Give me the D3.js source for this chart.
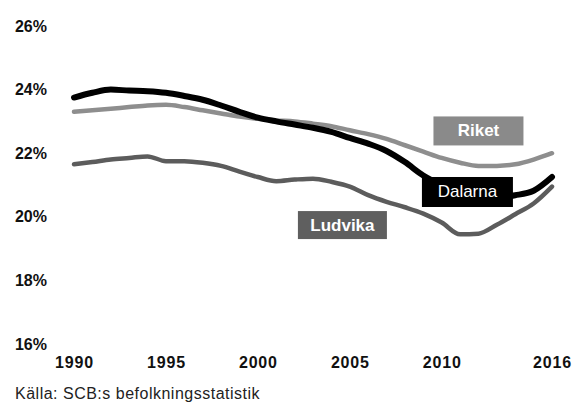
<!DOCTYPE html>
<html>
<head>
<meta charset="utf-8">
<script src="https://cdn.jsdelivr.net/npm/d3@7"></script>
<style>
  html, body { margin: 0; padding: 0; background: #fff; }
  svg { display: block; }
  text { font-family: "Liberation Sans", Arial, sans-serif; }
</style>
</head>
<body>
<svg id="chart" width="576" height="403"></svg>
<script>
const years = d3.range(1990, 2017);
const dalarna = [23.75, 23.9, 24.0, 23.97, 23.95, 23.9, 23.8, 23.68, 23.5, 23.3, 23.12, 23.0, 22.9, 22.8, 22.67, 22.48, 22.3, 22.07, 21.72, 21.3, 21.0, 20.78, 20.65, 20.62, 20.68, 20.82, 21.25];
const riket = [23.3, 23.35, 23.4, 23.45, 23.5, 23.52, 23.45, 23.35, 23.25, 23.15, 23.08, 23.03, 23.0, 22.93, 22.85, 22.72, 22.6, 22.45, 22.25, 22.05, 21.85, 21.7, 21.6, 21.6, 21.65, 21.8, 22.0];
const ludvika = [21.65, 21.72, 21.8, 21.85, 21.9, 21.75, 21.75, 21.7, 21.6, 21.42, 21.25, 21.12, 21.17, 21.2, 21.1, 20.95, 20.68, 20.47, 20.3, 20.1, 19.82, 19.45, 19.47, 19.75, 20.08, 20.42, 20.95];
const yTicks = [16, 18, 20, 22, 24, 26];
const xTicks = [1990, 1995, 2000, 2005, 2010, 2016];
const seriesNames = ["Riket", "Ludvika", "Dalarna"];
const labelAnchors = { Riket: [2012, 22.7], Dalarna: [2011.4, 20.78], Ludvika: [2004.6, 19.74] };
const source = "Källa: SCB:s befolkningsstatistik";

const series = [
  { name: "Riket", values: riket, color: "#8e8e8e", width: 4.5, box: "#8a8a8a", bw: 90, bh: 29 },
  { name: "Ludvika", values: ludvika, color: "#5c5c5c", width: 4.5, box: "#5f5f5f", bw: 89, bh: 28 },
  { name: "Dalarna", values: dalarna, color: "#000", width: 6, box: "#000", bw: 91, bh: 30 }
];

const svg = d3.select("#chart");
const x = d3.scaleLinear().domain([1990, 2016]).range([74, 552]);
const y = d3.scaleLinear().domain([16, 26]).range([344, 26]);

// Y axis labels
const yAxis = d3.axisLeft(y).tickValues(yTicks).tickSize(0).tickPadding(0)
  .tickFormat(d => d + "%");
const gy = svg.append("g").attr("transform", "translate(47,0)").call(yAxis);
gy.select(".domain").remove();
gy.selectAll("text").attr("font-size", 16).attr("font-weight", "bold")
  .attr("fill", "#111").attr("font-family", "'Liberation Sans', Arial, sans-serif");

// X axis labels
const xAxis = d3.axisBottom(x).tickValues(xTicks).tickSize(0).tickPadding(0)
  .tickFormat(d3.format("d"));
const gx = svg.append("g").attr("transform", "translate(0,357)").call(xAxis);
gx.select(".domain").remove();
gx.selectAll("text").attr("font-size", 16).attr("font-weight", "bold")
  .attr("fill", "#111").attr("letter-spacing", 0.8)
  .attr("font-family", "'Liberation Sans', Arial, sans-serif");

// Lines
const line = d3.line().x((d, i) => x(years[i])).y(d => y(d)).curve(d3.curveMonotoneX);
series.forEach(s => {
  svg.append("path").datum(s.values)
    .attr("d", line)
    .attr("fill", "none")
    .attr("stroke", s.color)
    .attr("stroke-width", s.width)
    .attr("stroke-linecap", "round")
    .attr("stroke-linejoin", "round");
});

// Label boxes
series.forEach(s => {
  const [lx, ly] = labelAnchors[s.name];
  const cx = x(lx), cy = y(ly);
  svg.append("rect")
    .attr("x", cx - s.bw / 2).attr("y", cy - s.bh / 2)
    .attr("width", s.bw).attr("height", s.bh)
    .attr("fill", s.box);
  svg.append("text")
    .attr("x", cx).attr("y", cy)
    .attr("text-anchor", "middle").attr("dominant-baseline", "central")
    .attr("fill", "#fff").attr("font-size", 17).attr("font-weight", s.name === "Dalarna" ? "normal" : "bold")
    .text(s.name);
});

// Source
svg.append("text")
  .attr("x", 15).attr("y", 399)
  .attr("font-size", 16).attr("letter-spacing", 0.5).attr("fill", "#222")
  .text(source);
</script>
</body>
</html>
